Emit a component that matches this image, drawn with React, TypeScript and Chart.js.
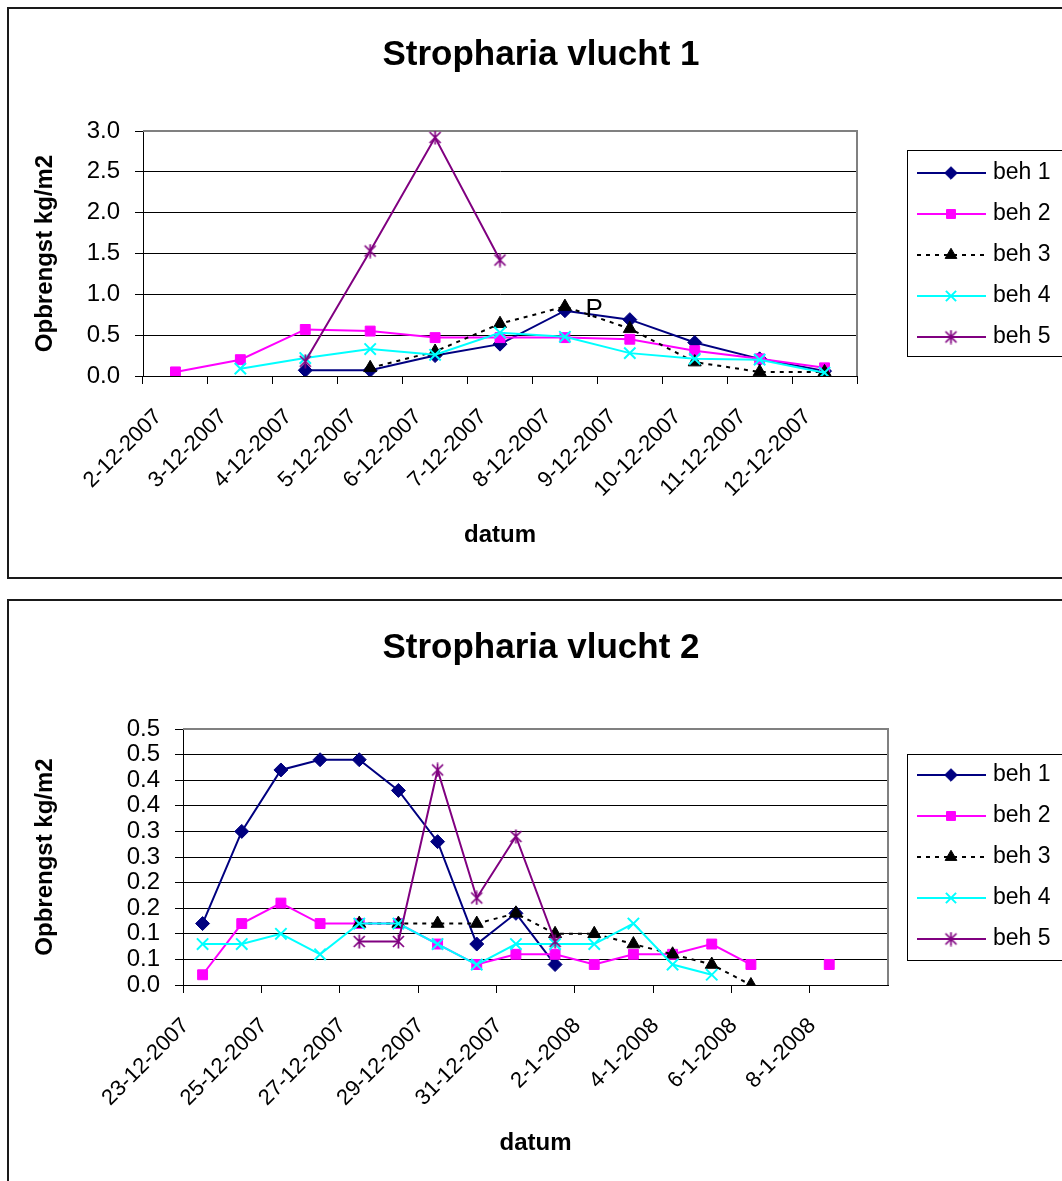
import React, { useEffect, useRef } from 'react';
import { Chart, registerables } from 'chart.js';
import { drawPoint } from 'chart.js/helpers';

Chart.register(...registerables);

const FONT = "'Liberation Sans', Arial, Helvetica, sans-serif";
Chart.defaults.color = '#000';
Chart.defaults.font.family = FONT;

// ---------- data: chart 1 ----------
const categories1 = ['2-12-2007', '3-12-2007', '4-12-2007', '5-12-2007', '6-12-2007', '7-12-2007', '8-12-2007', '9-12-2007', '10-12-2007', '11-12-2007', '12-12-2007'];
const v1beh1 = [null, null, 0.07, 0.07, 0.25, 0.39, 0.8, 0.69, 0.41, 0.21, 0.06];
const v1beh2 = [0.05, 0.2, 0.57, 0.55, 0.47, 0.47, 0.47, 0.45, 0.31, 0.21, 0.1];
const v1beh3 = [null, null, null, 0.1, 0.3, 0.64, 0.85, 0.58, 0.17, 0.05, 0.05];
const v1beh4 = [null, 0.09, 0.22, 0.33, 0.26, 0.53, 0.48, 0.28, 0.21, 0.2, 0.04];
const v1beh5 = [null, null, 0.18, 1.53, 2.92, 1.42, null, null, null, null, null];
const yTicks1 = [0, 0.5, 1.0, 1.5, 2.0, 2.5, 3.0];

// ---------- data: chart 2 ----------
const categories2 = ['23-12-2007', '24-12-2007', '25-12-2007', '26-12-2007', '27-12-2007', '28-12-2007', '29-12-2007', '30-12-2007', '31-12-2007', '1-1-2008', '2-1-2008', '3-1-2008', '4-1-2008', '5-1-2008', '6-1-2008', '7-1-2008', '8-1-2008', '9-1-2008'];
const v2beh1 = [0.12, 0.3, 0.42, 0.44, 0.44, 0.38, 0.28, 0.08, 0.14, 0.04, null, null, null, null, null, null, null, null];
const v2beh2 = [0.02, 0.12, 0.16, 0.12, 0.12, 0.12, 0.08, 0.04, 0.06, 0.06, 0.04, 0.06, 0.06, 0.08, 0.04, null, 0.04, null];
const v2beh3 = [null, null, null, null, 0.12, 0.12, 0.12, 0.12, 0.14, 0.1, 0.1, 0.08, 0.06, 0.04, 0.0, null, null, null];
const v2beh4 = [0.08, 0.08, 0.1, 0.06, 0.12, 0.12, 0.08, 0.04, 0.08, 0.08, 0.08, 0.12, 0.04, 0.02, null, null, null, null];
const v2beh5 = [null, null, null, null, 0.085, 0.085, 0.42, 0.17, 0.29, 0.085, null, null, null, null, null, null, null, null];
const yTicks2 = [0, 0.05, 0.1, 0.15, 0.2, 0.25, 0.3, 0.35, 0.4, 0.45, 0.5];

const seriesNames = ['beh 1', 'beh 2', 'beh 3', 'beh 4', 'beh 5'];

// ---------- styles ----------
const seriesStyles = [
  { color: '#000080', point: 'rectRot', radius: 7, dash: [] as number[], pbw: 1 },
  { color: '#FF00FF', point: 'rect', radius: 7, dash: [] as number[], pbw: 1 },
  { color: '#000000', point: 'triangle', radius: 7.5, dash: [4, 5], pbw: 1 },
  { color: '#00FFFF', point: 'crossRot', radius: 8, dash: [] as number[], pbw: 2 },
  { color: '#800080', point: 'asterisk', radius: 7, dash: [] as number[], pbw: 1 },
];

let asteriskCache: HTMLCanvasElement | null = null;
function asterisk(): HTMLCanvasElement {
  if (asteriskCache) return asteriskCache;
  const c = document.createElement('canvas');
  c.width = 15;
  c.height = 15;
  const g = c.getContext('2d')!;
  g.strokeStyle = '#800080';
  g.lineWidth = 1.7;
  g.beginPath();
  g.moveTo(2, 2); g.lineTo(13, 13);
  g.moveTo(13, 2); g.lineTo(2, 13);
  g.moveTo(7.5, 0.5); g.lineTo(7.5, 14.5);
  g.stroke();
  asteriskCache = c;
  return c;
}

function pointStyleOf(i: number): any {
  const st = seriesStyles[i];
  return st.point === 'asterisk' ? asterisk() : st.point;
}

function fmtTick(v: any) {
  return (Math.round(Number(v) * 10 + 1e-6) / 10).toFixed(1);
}

interface ChartParams {
  labels: string[];
  values: (number | null)[][];
  yTicks: number[];
  title: string;
  canvasW: number;
  canvasH: number;
  padTop: number;
  padRight: number;
  padBottom: number;
  yAxisW: number;
  xAxisH: number;
  xFont: number;
  titleX: number;
  titleY: number;
  legendLeft: number;
  legendTop: number;
  legendBottom: number;
  legendFirst: number;
  legendStep: number;
  everyOther: boolean;
  note?: { text: string; index: number; frac: number; value: number };
}

function makeDecor(p: ChartParams) {
  return {
    id: 'decor',
    beforeDatasetsDraw(chart: any) {
      const { ctx, chartArea: a } = chart;
      ctx.save();
      ctx.strokeStyle = '#808080';
      ctx.lineWidth = 2;
      ctx.beginPath();
      ctx.moveTo(a.left, a.top);
      ctx.lineTo(a.right, a.top);
      ctx.lineTo(a.right, a.bottom);
      ctx.stroke();
      ctx.restore();
    },
    afterDraw(chart: any) {
      const ctx = chart.ctx;
      ctx.save();
      ctx.fillStyle = '#000';
      ctx.font = `bold 35px ${FONT}`;
      ctx.textAlign = 'center';
      ctx.textBaseline = 'middle';
      ctx.fillText(p.title, p.titleX, p.titleY);

      if (p.note) {
        const xs = chart.scales.x;
        const ys = chart.scales.y;
        const x0 = xs.getPixelForValue(p.note.index);
        const x1 = xs.getPixelForValue(p.note.index + 1);
        const x = x0 + (x1 - x0) * p.note.frac;
        const y = ys.getPixelForValue(p.note.value);
        ctx.font = `26px ${FONT}`;
        ctx.fillText(p.note.text, x, y);
      }

      ctx.strokeStyle = '#000';
      ctx.lineWidth = 1;
      ctx.strokeRect(p.legendLeft + 0.5, p.legendTop + 0.5, 300, p.legendBottom - p.legendTop);
      const lx1 = p.legendLeft + 10;
      const lx2 = p.legendLeft + 79;
      const mx = p.legendLeft + 44;
      const tx = p.legendLeft + 86;
      seriesNames.forEach((name, i) => {
        const st = seriesStyles[i];
        const y = p.legendFirst + i * p.legendStep;
        ctx.save();
        ctx.strokeStyle = st.color;
        ctx.lineWidth = 2;
        ctx.setLineDash(st.dash);
        ctx.beginPath();
        ctx.moveTo(lx1, y);
        ctx.lineTo(lx2, y);
        ctx.stroke();
        ctx.setLineDash([]);
        ctx.fillStyle = st.color;
        ctx.strokeStyle = st.color;
        ctx.lineWidth = st.pbw;
        drawPoint(ctx, { pointStyle: pointStyleOf(i), radius: st.radius * 0.9, rotation: 0, borderWidth: st.pbw } as any, mx, y);
        ctx.restore();
        ctx.fillStyle = '#000';
        ctx.font = `23px ${FONT}`;
        ctx.textAlign = 'left';
        ctx.textBaseline = 'middle';
        ctx.fillText(name, tx, y);
      });
      ctx.restore();
    },
  };
}

function buildConfig(p: ChartParams): any {
  const yMin = p.yTicks[0];
  const yMax = p.yTicks[p.yTicks.length - 1];
  return {
    type: 'line',
    data: {
      labels: p.labels,
      datasets: p.values.map((vals, i) => {
        const st = seriesStyles[i];
        return {
          label: seriesNames[i],
          data: vals,
          borderColor: st.color,
          backgroundColor: st.color,
          borderWidth: 2,
          borderDash: st.dash,
          pointStyle: pointStyleOf(i),
          pointRadius: st.radius,
          pointHoverRadius: st.radius,
          pointBackgroundColor: st.color,
          pointBorderColor: st.color,
          pointBorderWidth: st.pbw,
          tension: 0,
          spanGaps: false,
          fill: false,
          order: 5 - i,
        };
      }),
    },
    options: {
      responsive: false,
      animation: false,
      events: [],
      layout: { padding: { left: 22, right: p.padRight, top: p.padTop, bottom: p.padBottom } },
      plugins: {
        legend: { display: false },
        title: { display: false },
        tooltip: { enabled: false },
      },
      scales: {
        x: {
          type: 'category',
          offset: true,
          grid: {
            offset: true,
            drawOnChartArea: false,
            drawTicks: true,
            tickLength: 8,
            color: '#000',
            tickColor: (c: any) => (!p.everyOther || c.index % 2 === 0 ? '#000' : 'rgba(0,0,0,0)'),
            lineWidth: 1,
          },
          border: { display: true, color: '#000', width: 1 },
          ticks: {
            autoSkip: false,
            minRotation: 45,
            maxRotation: 45,
            padding: 20,
            labelOffset: -17,
            color: '#000',
            font: { family: FONT, size: p.xFont },
            callback: (_v: any, idx: number) => (!p.everyOther || idx % 2 === 0 ? p.labels[idx] : ''),
          },
          title: {
            display: true,
            text: 'datum',
            color: '#000',
            padding: 0,
            font: { family: FONT, size: 24, weight: 'bold' },
          },
          afterFit: (s: any) => {
            s.height = p.xAxisH;
          },
        },
        y: {
          min: yMin,
          max: yMax,
          grid: { color: '#000', lineWidth: 1, drawTicks: true, tickLength: 8, tickColor: '#000' },
          border: { display: true, color: '#000', width: 1 },
          ticks: {
            autoSkip: false,
            padding: 15,
            color: '#000',
            font: { family: FONT, size: 24 },
            callback: (v: any) => fmtTick(v),
          },
          afterBuildTicks: (s: any) => {
            s.ticks = p.yTicks.map((v) => ({ value: v }));
          },
          title: {
            display: true,
            text: 'Opbrengst kg/m2',
            color: '#000',
            padding: 0,
            font: { family: FONT, size: 24, weight: 'bold' },
          },
          afterFit: (s: any) => {
            s.width = p.yAxisW;
          },
        },
      },
    },
    plugins: [makeDecor(p)],
  };
}

const params1: ChartParams = {
  labels: categories1,
  values: [v1beh1, v1beh2, v1beh3, v1beh4, v1beh5],
  yTicks: yTicks1,
  title: 'Stropharia vlucht 1',
  canvasW: 1053,
  canvasH: 568,
  padTop: 122,
  padRight: 205,
  padBottom: 27.6,
  yAxisW: 112,
  xAxisH: 173.4,
  xFont: 22,
  titleX: 532,
  titleY: 46,
  legendLeft: 898,
  legendTop: 141,
  legendBottom: 347,
  legendFirst: 164,
  legendStep: 41,
  everyOther: false,
  note: { text: 'P', index: 6, frac: 0.45, value: 0.81 },
};

const params2: ChartParams = {
  labels: categories2,
  values: [v2beh1, v2beh2, v2beh3, v2beh4, v2beh5],
  yTicks: yTicks2,
  title: 'Stropharia vlucht 2',
  canvasW: 1053,
  canvasH: 580,
  padTop: 128,
  padRight: 174,
  padBottom: 23.6,
  yAxisW: 152,
  xAxisH: 172.4,
  xFont: 22,
  titleX: 532,
  titleY: 47,
  legendLeft: 898,
  legendTop: 153,
  legendBottom: 359,
  legendFirst: 174,
  legendStep: 41,
  everyOther: true,
};

function LineChart({ p }: { p: ChartParams }) {
  const ref = useRef<HTMLCanvasElement | null>(null);
  useEffect(() => {
    if (!ref.current) return;
    const chart = new Chart(ref.current, buildConfig(p));
    return () => chart.destroy();
  }, []);
  return (
    <canvas
      ref={ref}
      width={p.canvasW}
      height={p.canvasH}
      style={{ position: 'absolute', left: 0, top: 0, width: p.canvasW, height: p.canvasH }}
    />
  );
}

export default function App() {
  return (
    <div style={{ position: 'absolute', left: 0, top: 0, width: 1062, height: 1181, overflow: 'hidden', background: '#fff' }}>
      <div
        style={{
          position: 'absolute',
          left: 7,
          top: 7,
          width: 1060,
          height: 572,
          border: '2px solid #1a1a1a',
          boxSizing: 'border-box',
        }}
      >
        <LineChart p={params1} />
      </div>
      <div
        style={{
          position: 'absolute',
          left: 7,
          top: 599,
          width: 1060,
          height: 600,
          border: '2px solid #1a1a1a',
          boxSizing: 'border-box',
        }}
      >
        <LineChart p={params2} />
      </div>
    </div>
  );
}
